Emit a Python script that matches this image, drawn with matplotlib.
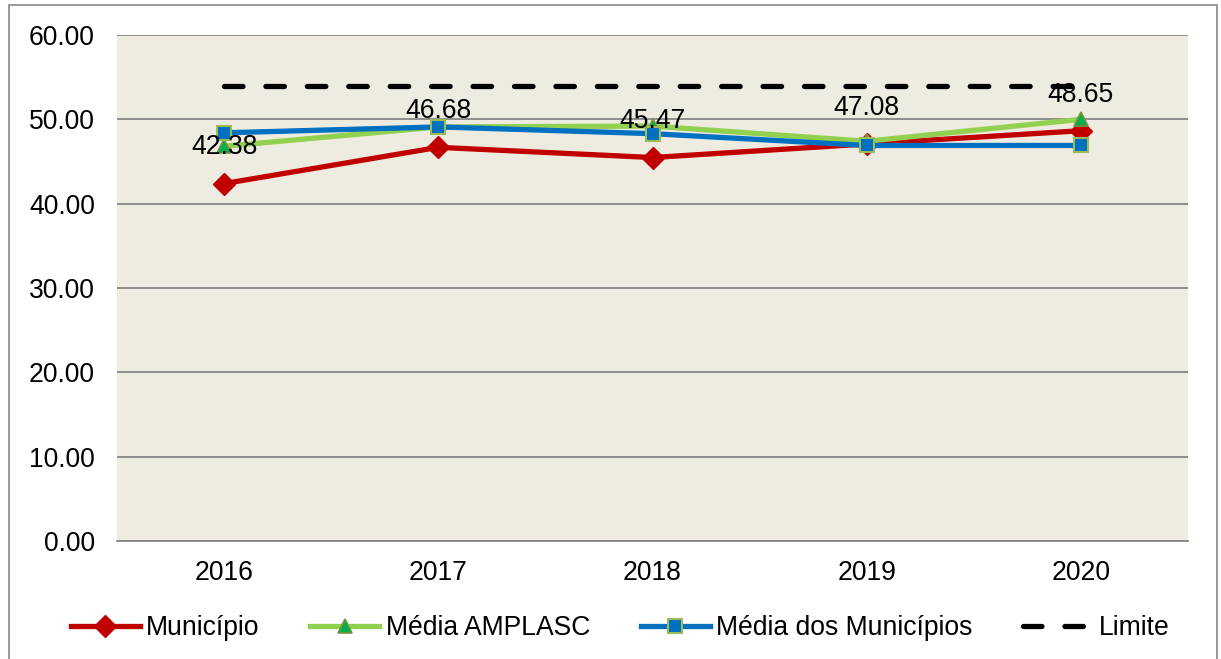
import matplotlib.pyplot as plt
from matplotlib.patches import Rectangle
from matplotlib.ticker import FormatStrFormatter

plt.rcParams['font.family'] = ['Liberation Sans', 'DejaVu Sans']

# Dados do gráfico
anos = ['2016', '2017', '2018', '2019', '2020']
municipio = [42.38, 46.68, 45.47, 47.08, 48.65]
media_amplasc = [46.8, 49.1, 49.2, 47.4, 50.0]
media_municipios = [48.4, 49.1, 48.3, 46.9, 46.9]
limite = [54.0, 54.0, 54.0, 54.0, 54.0]

W, H = 1221, 659
fig = plt.figure(figsize=(W / 100, H / 100), dpi=100)
ax = fig.add_axes([117 / W, 1 - 541 / H, (1188 - 117) / W, (541 - 35) / H])
ax.set_facecolor('#EEECE1')

x = list(range(len(anos)))
fs = 19.1

ax.plot(x, municipio, color='#C00000', lw=3.8, marker='D', ms=11,
        mfc='#C00000', mec='#C00000', label='Município', zorder=3)
ax.plot(x, media_amplasc, color='#92D050', lw=3.8, marker='^', ms=10,
        mfc='#00B050', mec='#77933C', mew=1.2, label='Média AMPLASC', zorder=4)
ax.plot(x, media_municipios, color='#0070C0', lw=3.8, marker='s', ms=9.5,
        mfc='#0070C0', mec='#9BBB59', mew=1.5, label='Média dos Municípios', zorder=5)
ax.plot(x, limite, color='black', lw=3.8, dashes=(3.5, 4.35),
        dash_capstyle='round', label='Limite', zorder=6)

# Rótulos do Município
for xi, v in zip(x, municipio):
    ax.annotate(f'{v:.2f}', (xi, v), xytext=(0, 26), textcoords='offset points',
                ha='center', va='center', fontsize=fs, zorder=7)

ax.set_xlim(-0.5, 4.5)
ax.set_ylim(0, 60)
ax.set_yticks(range(0, 61, 10))
ax.yaxis.set_major_formatter(FormatStrFormatter('%.2f'))
ax.set_xticks(x)
ax.set_xticklabels(anos)
ax.tick_params(axis='both', length=0, labelsize=fs)
ax.tick_params(axis='y', pad=16)
ax.tick_params(axis='x', pad=14)
ax.grid(axis='y', color='#868686', lw=1.3)
ax.set_axisbelow(True)
for s in ['left', 'right', 'top']:
    ax.spines[s].set_visible(False)
ax.spines['bottom'].set_color('#868686')
ax.spines['bottom'].set_linewidth(1.3)

ax.legend(loc='center', bbox_to_anchor=(620 / W, 1 - 628 / H),
          bbox_transform=fig.transFigure, ncol=4, frameon=False,
          fontsize=fs, handlelength=2.6, handletextpad=0.25,
          columnspacing=1.9, borderaxespad=0)

# Moldura do gráfico
fig.add_artist(Rectangle((9 / W, -0.05), (1217 - 9) / W, 1 - 5 / H + 0.05,
                         transform=fig.transFigure, fill=False,
                         edgecolor='#868686', lw=1.2))

fig.savefig('out.png', dpi=100)
